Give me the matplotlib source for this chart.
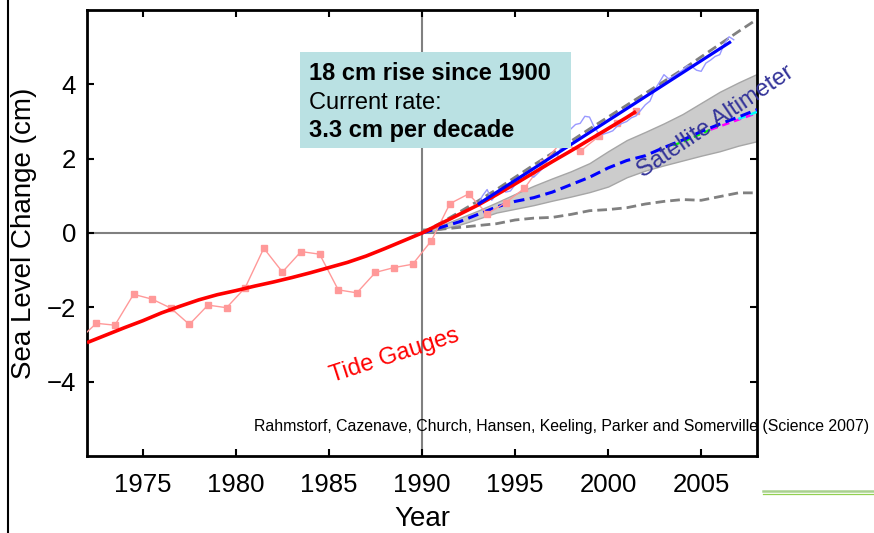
import matplotlib
matplotlib.use("Agg")
import matplotlib.pyplot as plt
from matplotlib.patches import Rectangle
from matplotlib.lines import Line2D

plt.rcParams['font.family'] = ['Liberation Sans', 'DejaVu Sans']

# ---- data ----
tide_years = [1971.5, 1972.5, 1973.5, 1974.5, 1975.5, 1976.5, 1977.5, 1978.5, 1979.5,
              1980.5, 1981.5, 1982.5, 1983.5, 1984.5, 1985.5, 1986.5, 1987.5, 1988.5,
              1989.5, 1990.5, 1991.5, 1992.5, 1993.5, 1994.5, 1995.5, 1996.5, 1997.5,
              1998.5, 1999.5, 2000.5, 2001.5]
tide_values = [-2.9, -2.43, -2.48, -1.65, -1.78, -2.02, -2.46, -1.94, -2.01,
               -1.47, -0.41, -1.05, -0.50, -0.57, -1.53, -1.61, -1.06, -0.93,
               -0.84, -0.21, 0.79, 1.05, 0.52, 0.82, 1.2, 1.88, 2.45,
               2.2, 2.6, 2.95, 3.27]

smooth_years = [1972, 1973, 1974, 1975, 1976, 1977, 1978, 1979, 1980, 1981, 1982,
                1983, 1984, 1985, 1986, 1987, 1988, 1989, 1990, 1991, 1992, 1993,
                1994, 1995, 1996, 1997, 1998, 1999, 2000, 2001, 2001.5]
smooth_values = [-2.95, -2.75, -2.55, -2.36, -2.15, -1.97, -1.8, -1.66, -1.55, -1.43, -1.32,
                 -1.2, -1.07, -0.93, -0.79, -0.62, -0.42, -0.21, 0.0, 0.25, 0.5, 0.75,
                 1.03, 1.32, 1.62, 1.92, 2.21, 2.51, 2.81, 3.11, 3.27]

sat_years = [1993.0, 1993.25, 1993.5, 1993.75, 1994.0, 1994.25, 1994.5, 1994.75,
             1995.0, 1995.25, 1995.5, 1995.75, 1996.0, 1996.25, 1996.5, 1996.75,
             1997.0, 1997.25, 1997.5, 1997.75, 1998.0, 1998.25, 1998.5, 1998.75,
             1999.0, 1999.25, 1999.5, 1999.75, 2000.0, 2000.25, 2000.5, 2000.75,
             2001.0, 2001.25, 2001.5, 2001.75, 2002.0, 2002.25, 2002.5, 2002.75,
             2003.0, 2003.25, 2003.5, 2003.75, 2004.0, 2004.25, 2004.5, 2004.75,
             2005.0, 2005.25, 2005.5, 2005.75, 2006.0, 2006.25, 2006.5, 2006.75]
sat_values = [0.75, 1.0, 1.17, 0.88, 1.05, 1.22, 1.1, 1.13,
              1.3, 1.4, 1.45, 1.58, 1.5, 1.62, 1.75, 1.85,
              1.92, 2.02, 2.35, 2.65, 2.8, 2.92, 2.95, 3.14,
              3.12, 2.85, 2.68, 2.66, 2.7, 2.75, 2.88, 2.95,
              3.0, 3.1, 3.15, 3.3, 3.45, 3.55, 3.85, 4.05,
              4.26, 4.15, 4.21, 4.3, 4.38, 4.5, 4.48, 4.38,
              4.35, 4.57, 4.65, 4.75, 4.8, 5.1, 5.28, 5.2]

sat_trend_years = [1993.0, 2006.6]
sat_trend_values = [0.77, 5.15]

proj_years = [1990, 1991, 1992, 1993, 1994, 1995, 1996, 1997, 1998, 1999,
              2000, 2001, 2002, 2003, 2004, 2005, 2006, 2007, 2008]
band_upper = [0, 0.2, 0.4, 0.6, 0.82, 1.05, 1.27, 1.47, 1.66, 1.88,
              2.2, 2.5, 2.72, 2.95, 3.2, 3.5, 3.8, 4.05, 4.28]
band_lower = [0, 0.1, 0.22, 0.38, 0.55, 0.65, 0.75, 0.87, 0.98, 1.1,
              1.25, 1.5, 1.68, 1.82, 1.95, 2.08, 2.2, 2.35, 2.47]
model_mean = [0, 0.15, 0.3, 0.5, 0.7, 0.85, 0.95, 1.1, 1.3, 1.5,
              1.75, 1.95, 2.08, 2.3, 2.5, 2.73, 2.93, 3.12, 3.32]
proj_high = [0, 0.27, 0.56, 0.86, 1.17, 1.5, 1.83, 2.15, 2.47, 2.8,
             3.12, 3.44, 3.76, 4.08, 4.4, 4.74, 5.08, 5.42, 5.75]
proj_low = [0.08, 0.1, 0.15, 0.2, 0.25, 0.35, 0.4, 0.42, 0.5, 0.6,
            0.63, 0.68, 0.78, 0.85, 0.9, 0.88, 0.98, 1.08, 1.08]

green_years = [2003.5, 2004, 2004.5, 2005, 2005.5]
green_values = [2.36, 2.45, 2.56, 2.67, 2.78]
magenta_years = [2005.5, 2006, 2006.5, 2007, 2007.5, 2008]
magenta_values = [2.78, 2.87, 2.96, 3.05, 3.14, 3.23]
cyan_years = [2007, 2007.5, 2008]
cyan_values = [3.07, 3.16, 3.26]

x_ticks = [1975, 1980, 1985, 1990, 1995, 2000, 2005]
y_ticks = [-4, -2, 0, 2, 4]

# ---- figure ----
fig = plt.figure(figsize=(8.74, 5.33), dpi=100)
ax = fig.add_axes([87/874, 77/533, 670/874, 446/533])
ax.set_xlim(1972, 2008)
ax.set_ylim(-6, 6)

ax.axhline(0, color='#808080', lw=1.5, zorder=1)
ax.axvline(1990, color='#808080', lw=1.5, zorder=1)

ax.fill_between(proj_years, band_lower, band_upper, facecolor='#cccccc',
                edgecolor='#a6a6a6', lw=1.0, zorder=2)
ax.plot(proj_years, proj_low, color='#808080', lw=2.0, dashes=(3.5, 1.8), zorder=3)
ax.plot(green_years, green_values, color='#00ff00', lw=1.6, dashes=(3, 2), zorder=3)
ax.plot(magenta_years, magenta_values, color='#ff00ff', lw=1.8, dashes=(3, 2), zorder=3)
ax.plot(cyan_years, cyan_values, color='#00ffff', lw=1.8, dashes=(3, 2), zorder=3)
ax.plot(proj_years, model_mean, color='#0000ff', lw=2.2, dashes=(3.5, 1.8), zorder=4)
ax.plot(proj_years, proj_high, color='#808080', lw=2.0, dashes=(3.5, 1.8), zorder=4)

ax.plot(tide_years, tide_values, color='#ff9999', lw=1.0, marker='s', ms=5,
        mec='#ff9999', mfc='#ff9999', zorder=5)
ax.plot(sat_years, sat_values, color='#9999ff', lw=1.0, zorder=5)
ax.plot(smooth_years, smooth_values, color='#ff0000', lw=2.6, zorder=6,
        solid_capstyle='butt')
ax.plot(sat_trend_years, sat_trend_values, color='#0000ff', lw=2.3, zorder=7,
        solid_capstyle='butt')

# ticks and spines
ax.set_xticks(x_ticks)
ax.set_yticks(y_ticks)
ax.tick_params(direction='in', length=5, width=1.5, top=True, right=True,
               labelsize=18.5, pad=12)
ax.tick_params(axis='y', pad=8)
for s in ax.spines.values():
    s.set_linewidth(2.0)

ax.set_xlabel('Year', fontsize=20)
ax.set_ylabel('Sea Level Change (cm)', fontsize=20)
ax.xaxis.set_label_coords(0.5, -0.141)
ax.yaxis.set_label_coords(-0.094, 0.5)
ax.xaxis.label.set_va('center')
ax.yaxis.label.set_va('center')

# info box
ax.add_patch(Rectangle((0.318, 0.6906), 0.404, 0.2154, transform=ax.transAxes,
                       facecolor='#bae1e3', edgecolor='none', zorder=10))
ax.text(0.331, 0.843, '18 cm rise since 1900', transform=ax.transAxes,
        fontsize=17, fontweight='bold', va='baseline', ha='left', zorder=11)
ax.text(0.331, 0.778, 'Current rate:', transform=ax.transAxes,
        fontsize=17, va='baseline', ha='left', zorder=11)
ax.text(0.331, 0.715, '3.3 cm per decade', transform=ax.transAxes,
        fontsize=17, fontweight='bold', va='baseline', ha='left', zorder=11)

ax.text(1988.5, -3.3, 'Tide Gauges', color='#ff0000', fontsize=17,
        rotation=18, rotation_mode='anchor', ha='center', va='center', zorder=12)
ax.text(2005.8, 3.0, 'Satellite Altimeter', color='#333399', fontsize=17,
        rotation=34, rotation_mode='anchor', ha='center', va='center', zorder=12,
        clip_on=False)

ax.text(0.249, 0.056, 'Rahmstorf, Cazenave, Church, Hansen, Keeling, Parker and Somerville (Science 2007)',
        transform=ax.transAxes, fontsize=11.45, ha='left', va='baseline',
        zorder=12, clip_on=False)

# slide decorations
fig.add_artist(Line2D([8/874, 8/874], [0, 1], color='black', lw=1.5,
                      transform=fig.transFigure))
fig.add_artist(Line2D([763/874, 1], [1 - 490.7/533, 1 - 490.7/533], color='#a9d18e',
                      lw=1.8, transform=fig.transFigure))
fig.add_artist(Line2D([763/874, 1], [1 - 493.9/533, 1 - 493.9/533], color='#92d050',
                      lw=0.9, transform=fig.transFigure))

fig.savefig('out.png', dpi=100)
